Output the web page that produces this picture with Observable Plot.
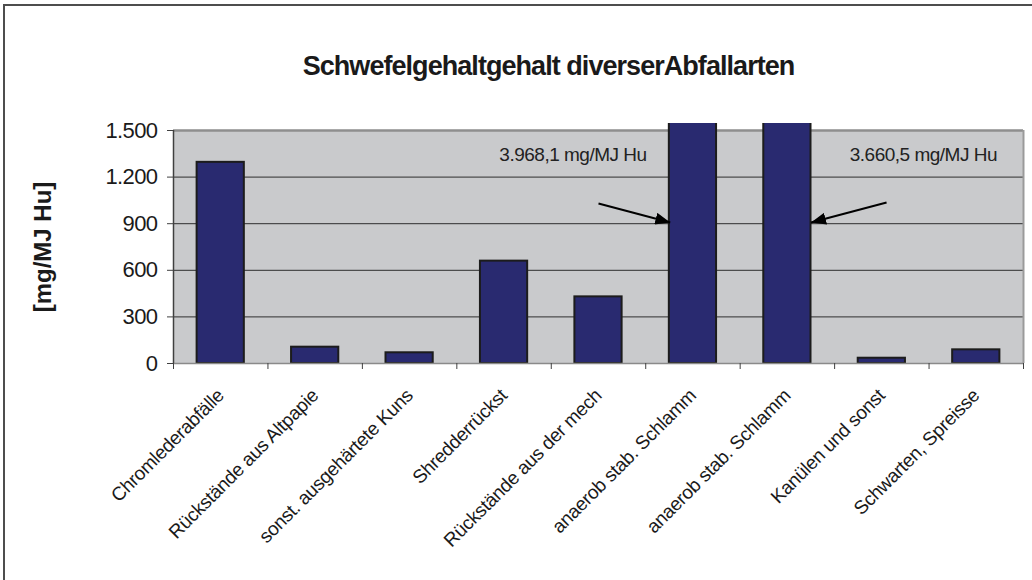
<!DOCTYPE html>
<html><head><meta charset="utf-8">
<script src="https://cdn.jsdelivr.net/npm/d3@7"></script>
<script src="https://cdn.jsdelivr.net/npm/@observablehq/plot@0.6"></script>
<style>
html,body{margin:0;padding:0;background:#fff;}
#wrap{position:relative;width:1032px;height:580px;overflow:hidden;}
#border{position:absolute;left:3px;top:4px;width:1200px;height:800px;border-left:2px solid #4d4d4d;border-top:2px solid #4d4d4d;}
#chart{position:absolute;left:0;top:0;}
</style></head><body>
<div id="wrap"><div id="border"></div><div id="chart"></div></div>
<script>
const titleText = "Schwefelgehaltgehalt diverserAbfallarten";
const yLabel = "[mg/MJ Hu]";
const categories = [
  "Chromlederabfälle",
  "Rückstände aus Altpapie",
  "sonst. ausgehärtete Kuns",
  "Shredderrückst",
  "Rückstände aus der mech",
  "anaerob stab. Schlamm",
  "anaerob stab. Schlamm",
  "Kanülen und sonst",
  "Schwarten, Spreisse"
];
const values = [1295, 105, 69, 659, 429, 3968.1, 3660.5, 34, 88];
const yTicks = [0, 300, 600, 900, 1200, 1500];
const noteLabels = ["3.968,1 mg/MJ Hu", "3.660,5 mg/MJ Hu"];
const noteX = [3.45, 7.16];
const noteY = [1345, 1345];
const arrowX1 = [4.5, 7.55];
const arrowY1 = [1030, 1036];
const arrowX2 = [5.26, 6.75];
const arrowY2 = [908, 908];

const bars = categories.map((c, i) => ({i, label: c, value: values[i]}));
const notes = noteLabels.map((t, i) => ({t, x: noteX[i], y: noteY[i]}));
const arrows = arrowX1.map((x, i) => ({x1: x, y1: arrowY1[i], x2: arrowX2[i], y2: arrowY2[i]}));

const FONT = "'Liberation Sans', Arial, sans-serif";
const fmt = d => d3.format(",")(d).replace(/,/g, ".");

function arrowHead(color, context) {
  const ns = "http://www.w3.org/2000/svg";
  const m = document.createElementNS(ns, "marker");
  m.setAttribute("viewBox", "0 -6 15 12");
  m.setAttribute("markerWidth", 15);
  m.setAttribute("markerHeight", 12);
  m.setAttribute("refX", 15);
  m.setAttribute("refY", 0);
  m.setAttribute("orient", "auto");
  m.setAttribute("markerUnits", "userSpaceOnUse");
  const p = document.createElementNS(ns, "path");
  p.setAttribute("d", "M0,-6L15,0L0,6Z");
  p.setAttribute("fill", "#000");
  p.setAttribute("stroke", "none");
  m.appendChild(p);
  return m;
}

function clipAbove(index, scales, values, dimensions, context, next) {
  const g = next(index, scales, values, dimensions, context);
  const ns = "http://www.w3.org/2000/svg";
  const cp = document.createElementNS(ns, "clipPath");
  cp.setAttribute("id", "barclip");
  const r = document.createElementNS(ns, "rect");
  r.setAttribute("x", 0);
  r.setAttribute("y", dimensions.marginTop - 7);
  r.setAttribute("width", dimensions.width);
  r.setAttribute("height", dimensions.height - dimensions.marginTop - dimensions.marginBottom + 10);
  cp.appendChild(r);
  g.insertBefore(cp, g.firstChild);
  g.setAttribute("clip-path", "url(#barclip)");
  return g;
}

const chart = Plot.plot({
  width: 1032,
  height: 580,
  marginLeft: 173,
  marginRight: 9,
  marginTop: 130,
  marginBottom: 217,
  style: {background: "transparent", fontFamily: FONT, color: "#1a1a1a", overflow: "visible"},
  x: {domain: [0, 9], axis: null},
  y: {domain: [0, 1500], axis: null},
  marks: [
    Plot.frame({fill: "#c9cacc", stroke: "none"}),
    Plot.ruleY([300, 600, 900, 1200], {stroke: "#2e2e2e", strokeWidth: 1}),
    Plot.ruleY([1500], {stroke: "#8e8e8e", strokeWidth: 2.5}),
    Plot.ruleX([9], {stroke: "#9a9a9a", strokeWidth: 2}),
    Plot.rectY(bars, {x1: d => d.i + 0.25, x2: d => d.i + 0.75, y: "value", fill: "#292a70", stroke: "#1c1c1c", strokeWidth: 2, render: clipAbove}),
    Plot.ruleY([0], {stroke: "#8a8a8a", strokeWidth: 1.5}),
    Plot.ruleX([0], {stroke: "#404040", strokeWidth: 1.5}),
    Plot.axisY({ticks: yTicks, tickFormat: fmt, tickSize: 6, tickPadding: 10, fontSize: 22, label: null, stroke: "#404040"}),
    Plot.axisX({ticks: d3.range(10), tickSize: 6, tickFormat: () => "", label: null, stroke: "#404040"}),
    Plot.axisX({ticks: bars.map(d => d.i + 0.5), tickSize: 0, tickPadding: 29, tickRotate: -45, fontSize: 19, label: null,
      tickFormat: d => categories[Math.floor(d)], dx: 0, fill: "#1a1a1a"}),
    Plot.text([yLabel], {frameAnchor: "left", textAnchor: "middle", dx: -130, rotate: -90, fontSize: 24, fontWeight: "bold", fill: "#1a1a1a"}),
    Plot.text([titleText], {frameAnchor: "top", dx: -50, dy: -75, fontSize: 27, fontWeight: "bold", fill: "#1a1a1a"}),
    Plot.text(notes, {x: "x", y: "y", text: "t", textAnchor: "start", fontSize: 19, fill: "#222"}),
    Plot.link(arrows, {x1: "x1", y1: "y1", x2: "x2", y2: "y2", stroke: "#000", strokeWidth: 2, markerEnd: arrowHead})
  ]
});
const spacing = new Map([[titleText, "-0.95px"], [noteLabels[0], "-0.5px"], [noteLabels[1], "-0.5px"]]);
d3.select(chart).selectAll("text").each(function() {
  const t = this.textContent;
  if (spacing.has(t)) this.setAttribute("letter-spacing", spacing.get(t));
  else if (yTicks.map(fmt).includes(t)) this.setAttribute("letter-spacing", "-0.6px");
  else if (categories.includes(t)) this.setAttribute("letter-spacing", "-0.3px");
});
document.getElementById("chart").appendChild(chart);
</script>
</body></html>
